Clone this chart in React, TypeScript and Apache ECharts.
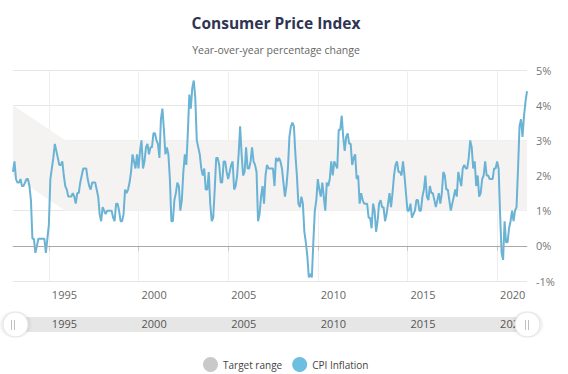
import React, { useEffect, useRef } from "react";
import * as echarts from "echarts";

const startYear = 1993;
// Monthly CPI year-over-year % change, Jan 1993 – Sep 2021
const cpi1993_1997 = [
  2.1, 2.4, 1.9, 1.8, 1.8, 1.9, 1.7, 1.7, 1.8, 1.9, 1.9, 1.7,
  1.3, 0.2, 0.2, -0.2, 0.0, 0.2, 0.2, 0.2, 0.2, 0.2, -0.2, 0.2,
  0.6, 1.9, 2.2, 2.5, 2.9, 2.7, 2.5, 2.3, 2.3, 2.4, 2.0, 1.7,
  1.6, 1.4, 1.4, 1.4, 1.5, 1.4, 1.2, 1.5, 1.5, 1.8, 2.0, 2.2,
  2.2, 2.2, 1.9, 1.7, 1.6, 1.8, 1.8, 1.8, 1.6, 1.4, 0.9, 0.7,
];
const cpi1998_2002 = [
  1.1, 1.0, 0.9, 1.0, 1.0, 1.0, 1.0, 0.8, 0.7, 1.2, 1.2, 1.0,
  0.7, 0.7, 0.9, 1.6, 1.5, 1.6, 1.8, 2.1, 2.6, 2.4, 2.2, 2.6,
  2.2, 2.7, 3.0, 2.2, 2.4, 2.8, 2.9, 2.6, 2.8, 2.8, 3.2, 3.2,
  3.0, 2.9, 2.5, 3.6, 3.9, 3.3, 2.6, 2.8, 2.6, 1.9, 0.7, 0.7,
  1.3, 1.5, 1.8, 1.7, 1.0, 1.3, 2.1, 2.6, 2.3, 3.2, 4.3, 3.9,
];
const cpi2003_2007 = [
  4.5, 4.7, 4.2, 3.0, 2.8, 2.6, 2.2, 2.0, 2.2, 1.6, 1.6, 2.1,
  1.2, 0.7, 0.8, 1.6, 2.5, 2.5, 2.3, 1.8, 1.8, 2.4, 2.4, 2.1,
  1.9, 2.1, 2.3, 2.4, 1.6, 1.7, 2.0, 2.6, 3.4, 2.6, 2.0, 2.1,
  2.8, 2.2, 2.2, 2.4, 2.8, 2.4, 2.3, 2.1, 0.7, 0.9, 1.4, 1.7,
  1.2, 2.0, 2.3, 2.2, 2.2, 2.2, 2.2, 1.7, 2.5, 2.4, 2.5, 2.4,
];
const cpi2008_2012 = [
  2.2, 1.8, 1.4, 1.7, 2.2, 3.1, 3.4, 3.5, 3.4, 2.6, 2.0, 1.2,
  1.1, 1.4, 1.2, 0.4, 0.1, -0.3, -0.9, -0.8, -0.9, 0.1, 1.0, 1.3,
  1.9, 1.6, 1.4, 1.8, 1.4, 1.0, 1.8, 1.7, 1.9, 2.4, 2.0, 2.4,
  2.3, 2.2, 3.3, 3.3, 3.7, 3.1, 2.7, 3.1, 3.2, 2.9, 2.9, 2.3,
  2.5, 2.6, 1.9, 2.0, 1.2, 1.5, 1.3, 1.2, 1.2, 1.2, 0.8, 0.8,
];
const cpi2013_2017 = [
  0.5, 1.2, 1.0, 0.4, 0.7, 1.2, 1.3, 1.1, 1.1, 0.7, 0.9, 1.2,
  1.5, 1.1, 1.5, 2.0, 2.3, 2.4, 2.1, 2.1, 2.0, 2.4, 2.0, 1.5,
  1.0, 1.0, 1.2, 0.8, 0.9, 1.0, 1.3, 1.3, 1.0, 1.0, 1.4, 1.6,
  2.0, 1.4, 1.3, 1.7, 1.5, 1.5, 1.3, 1.1, 1.3, 1.5, 1.2, 1.5,
  2.1, 2.0, 1.6, 1.6, 1.3, 1.0, 1.2, 1.4, 1.6, 1.4, 2.1, 1.9,
];
const cpi2018_2021 = [
  1.7, 2.2, 2.3, 2.2, 2.2, 2.5, 3.0, 2.8, 2.2, 2.4, 1.7, 2.0,
  1.4, 1.5, 1.9, 2.0, 2.4, 2.0, 2.0, 1.9, 1.9, 1.9, 2.2, 2.2,
  2.4, 2.2, 0.9, -0.2, -0.4, 0.7, 0.1, 0.1, 0.5, 0.7, 1.0, 0.7,
  1.0, 1.1, 2.2, 3.4, 3.6, 3.1, 3.7, 4.1, 4.4,
];
const cpiValues = [
  ...cpi1993_1997,
  ...cpi1998_2002,
  ...cpi2003_2007,
  ...cpi2008_2012,
  ...cpi2013_2017,
  ...cpi2018_2021,
];

// Target range corner points (year, month index)
const targetYears = [1993, 1995, 2021];
const targetMonths = [0, 11, 8];
const targetLow = [2, 1, 1];
const targetHigh = [4, 3, 3];

// X-axis tick years
const tickYears = [1995, 2000, 2005, 2010, 2015, 2020];

const FONT = "'Open Sans', 'Noto Sans', sans-serif";

export default function App() {
  const ref = useRef<HTMLDivElement>(null);

  useEffect(() => {
    if (!ref.current) return;
    const chart = echarts.init(ref.current, undefined, { renderer: "svg" });

    const toX = (y: number, m: number) => y + m / 12;
    const cpiData = cpiValues.map((v, i) => [
      toX(startYear + Math.floor(i / 12), i % 12),
      v,
    ]);
    const bandData = targetYears.map((y, i) => [toX(y, targetMonths[i]), targetLow[i], targetHigh[i]]);

    const minX = toX(1993, 0);
    const maxX = toX(2021, 8);
    const yearFmt = (v: number) => String(Math.round(v));

    chart.setOption({
      animation: false,
      textStyle: { fontFamily: FONT },
      title: {
        text: "Consumer Price Index",
        subtext: "Year-over-year percentage change",
        left: 271,
        textAlign: "center",
        top: 10,
        itemGap: 13,
        textStyle: { fontSize: 15.5, fontWeight: "bold", color: "#2f3452", fontFamily: FONT },
        subtextStyle: { fontSize: 10.5, color: "#666", fontFamily: FONT },
      },
      legend: {
        data: [
          { name: "Target range", itemStyle: { color: "#c9c9c9" } },
          { name: "CPI Inflation", itemStyle: { color: "#6cbfe0" } },
        ],
        left: 198,
        top: 352,
        icon: "circle",
        itemWidth: 15,
        itemHeight: 15,
        itemGap: 10,
        textStyle: { fontSize: 10, color: "#444", fontFamily: FONT },
      },
      grid: [
        { left: 13, right: 41, top: 70, bottom: 93 },
        {
          left: 13,
          right: 41,
          top: 317,
          height: 15,
          show: true,
          backgroundColor: "#e6e6e6",
          borderWidth: 0,
        },
      ],
      xAxis: [
        {
          type: "value",
          gridIndex: 0,
          min: minX,
          max: maxX,
          axisLine: { lineStyle: { color: "#c8c8c8" } },
          axisTick: { show: true, length: 5, customValues: tickYears, lineStyle: { color: "#c8c8c8" } },
          splitLine: { show: true, lineStyle: { color: "#eeeeee" } },
          axisLabel: {
            customValues: tickYears,
            formatter: yearFmt,
            color: "#666",
            fontSize: 11,
            align: "left",
            padding: [0, 0, 0, 3],
            margin: 8,
            fontFamily: FONT,
          },
        },
        {
          type: "value",
          gridIndex: 1,
          min: minX,
          max: maxX,
          axisLine: { show: false },
          axisTick: { show: false, customValues: tickYears },
          splitLine: { show: false },
          axisLabel: {
            customValues: tickYears,
            formatter: yearFmt,
            color: "#555",
            fontSize: 11,
            align: "left",
            padding: [0, 0, 0, 3],
            margin: -14,
            fontFamily: FONT,
          },
        },
      ],
      yAxis: [
        {
          type: "value",
          gridIndex: 0,
          position: "right",
          min: -1,
          max: 5,
          interval: 1,
          axisLine: { show: false },
          axisTick: { show: false },
          splitLine: { lineStyle: { color: "#e6e6e6" } },
          axisLabel: {
            formatter: "{value}%",
            color: "#777",
            fontSize: 11,
            margin: 9,
            fontFamily: FONT,
          },
        },
        {
          type: "value",
          gridIndex: 1,
          min: 0,
          max: 1,
          show: false,
        },
      ],
      dataZoom: [
        {
          type: "slider",
          xAxisIndex: 0,
          filterMode: "none",
          start: 0,
          end: 100,
          left: 13,
          right: 41,
          top: 317,
          height: 15,
          backgroundColor: "rgba(0,0,0,0)",
          borderColor: "rgba(0,0,0,0)",
          fillerColor: "rgba(0,0,0,0)",
          dataBackground: {
            lineStyle: { opacity: 0 },
            areaStyle: { opacity: 0 },
          },
          selectedDataBackground: {
            lineStyle: { opacity: 0 },
            areaStyle: { opacity: 0 },
          },
          showDetail: false,
          showDataShadow: false,
          brushSelect: false,
          moveHandleSize: 0,
          handleIcon: "circle",
          handleSize: 25,
          handleStyle: {
            color: "#ffffff",
            borderColor: "#e2e2e2",
            borderWidth: 1,
            shadowBlur: 4,
            shadowColor: "rgba(0,0,0,0.18)",
          },
          emphasis: { handleStyle: { borderColor: "#e2e2e2" } },
        },
      ],
      graphic: [
        { type: "line", z: 100, shape: { x1: 11.5, y1: 320, x2: 11.5, y2: 330 }, style: { stroke: "#c0c0c0", lineWidth: 1 } },
        { type: "line", z: 100, shape: { x1: 14.5, y1: 320, x2: 14.5, y2: 330 }, style: { stroke: "#c0c0c0", lineWidth: 1 } },
        { type: "line", z: 100, shape: { x1: 525.5, y1: 320, x2: 525.5, y2: 330 }, style: { stroke: "#c0c0c0", lineWidth: 1 } },
        { type: "line", z: 100, shape: { x1: 528.5, y1: 320, x2: 528.5, y2: 330 }, style: { stroke: "#c0c0c0", lineWidth: 1 } },
      ],
      series: [
        {
          name: "Target range",
          type: "custom",
          xAxisIndex: 0,
          yAxisIndex: 0,
          data: bandData,
          encode: { x: 0, y: [1, 2] },
          itemStyle: { color: "#c9c9c9" },
          silent: true,
          clip: true,
          z: 1,
          renderItem: (params: any, api: any) => {
            if (params.dataIndex !== 0) return null;
            const upper = bandData.map((d) => api.coord([d[0], d[2]]));
            const lower = bandData.map((d) => api.coord([d[0], d[1]])).reverse();
            return {
              type: "polygon",
              shape: { points: [...upper, ...lower] },
              style: { fill: "#f5f2f2" },
            };
          },
        },
        {
          name: "CPI Inflation",
          type: "line",
          xAxisIndex: 0,
          yAxisIndex: 0,
          data: cpiData,
          symbol: "none",
          itemStyle: { color: "#6cbfe0" },
          lineStyle: { color: "#6ab3d4", width: 2 },
          z: 3,
          markLine: {
            silent: true,
            symbol: "none",
            label: { show: false },
            lineStyle: { color: "#a8a8a8", width: 1, type: "solid" },
            data: [{ yAxis: 0 }],
          },
        },
      ],
    });

    return () => chart.dispose();
  }, []);

  return <div ref={ref} style={{ width: 568, height: 374, position: "absolute", left: 0, top: 0 }} />;
}
